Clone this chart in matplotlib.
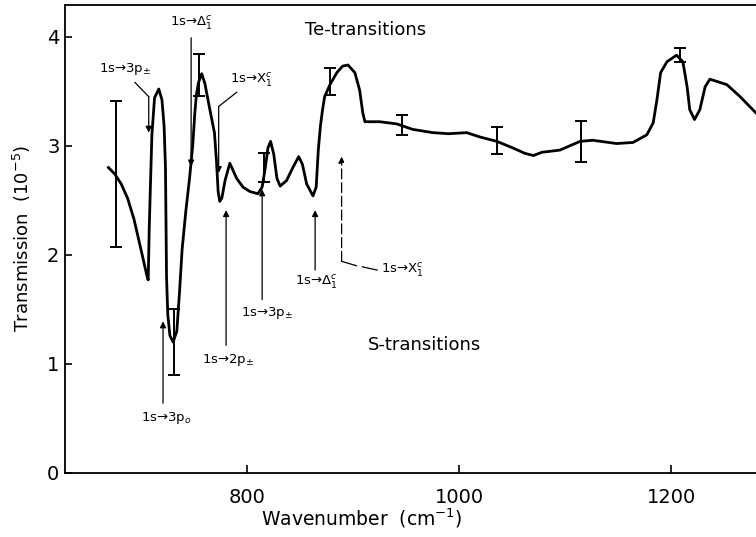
import matplotlib
matplotlib.use("Agg")
import matplotlib.pyplot as plt

# spectre (nombre d'onde en cm-1, transmission en 1e-5)
wn = [669, 675, 681, 687, 693, 698, 702, 705, 706.5, 707.5, 708.5, 710, 712.5,
      716.5, 719.5, 721.5, 722.8, 723.3, 723.8, 725, 727, 730, 733.5, 736, 738.5,
      742, 745.5, 748.5, 750.5, 752, 754, 757, 760, 764.5, 769, 771, 772.5, 774, 776,
      779, 783.5, 790, 796, 802.5, 810, 814, 817, 819.5, 822, 825, 828, 831, 837,
      843, 848.5, 852, 856, 862, 865, 867, 869, 871, 873, 878, 884.5, 890, 895,
      901.5, 906, 909, 911, 925, 941, 956, 975, 990, 1007, 1019.5, 1035.5, 1050.5,
      1062, 1070, 1078, 1095, 1114, 1126, 1148.5, 1164, 1177, 1183, 1186.5, 1190,
      1196, 1205, 1211, 1215, 1217.5, 1222, 1227, 1232, 1236.5, 1252.5, 1265, 1280]
trans = [2.80, 2.74, 2.65, 2.52, 2.33, 2.12, 1.95, 1.82, 1.77, 2.25, 2.60, 3.10, 3.44,
         3.52, 3.42, 3.18, 2.80, 2.30, 1.80, 1.45, 1.26, 1.20, 1.30, 1.65, 2.05,
         2.40, 2.70, 3.00, 3.30, 3.47, 3.58, 3.66, 3.57, 3.34, 3.12, 2.85, 2.58, 2.49, 2.52,
         2.68, 2.84, 2.70, 2.62, 2.58, 2.56, 2.62, 2.80, 2.98, 3.04, 2.92, 2.70, 2.63, 2.68,
         2.80, 2.90, 2.83, 2.65, 2.54, 2.62, 2.96, 3.18, 3.33, 3.45, 3.56, 3.67, 3.73, 3.74,
         3.67, 3.51, 3.30, 3.22, 3.22, 3.20, 3.15, 3.12, 3.11, 3.12, 3.08, 3.04, 2.98,
         2.93, 2.91, 2.94, 2.96, 3.04, 3.05, 3.02, 3.03, 3.10, 3.21, 3.42, 3.67,
         3.77, 3.83, 3.77, 3.54, 3.33, 3.24, 3.33, 3.54, 3.61, 3.56, 3.45, 3.30]

# barres d'erreur
err_wn = [676, 731, 754.5, 816, 878, 946, 1035.5, 1115, 1208]
err_mid = [2.74, 1.20, 3.65, 2.80, 3.59, 3.19, 3.045, 3.04, 3.835]
err_half = [0.67, 0.30, 0.19, 0.135, 0.125, 0.09, 0.125, 0.185, 0.065]

fig = plt.figure(figsize=(7.56, 5.37), dpi=100)
ax = fig.add_axes([65 / 756, 64 / 537, 691 / 756, 468 / 537])
ax.set_xlim(628, 1280)
ax.set_ylim(0, 4.29)

ax.plot(wn, trans, color="black", lw=2.0, solid_joinstyle="round")
ax.errorbar(err_wn, err_mid, yerr=err_half, fmt="none", ecolor="black",
            elinewidth=1.4, capsize=4, capthick=1.4)

ax.spines["right"].set_visible(False)
for s in ("left", "top", "bottom"):
    ax.spines[s].set_linewidth(1.3)
ax.set_xticks([800, 1000, 1200])
ax.set_yticks([0, 1, 2, 3, 4])
ax.tick_params(axis="x", direction="in", length=5.5, width=1.2, pad=11, labelsize=14)
ax.tick_params(axis="y", direction="in", length=5, width=1.2, pad=4, labelsize=14)
ax.tick_params(top=False, right=False)

ax.set_xlabel("Wavenumber  (cm$^{-1}$)", fontsize=13.5)
ax.xaxis.set_label_coords(0.43, -0.072)
ax.set_ylabel("Transmission  (10$^{-5}$)", fontsize=13)
ax.yaxis.set_label_coords(-0.047, 0.5)

fs = 9.5
arr = dict(arrowstyle="-|>", mutation_scale=9, lw=0.9, color="black", shrinkA=0, shrinkB=0)
lin = dict(color="black", lw=0.9)

# transitions Te (flèches vers le bas)
ax.text(912, 4.06, "Te-transitions", fontsize=13, ha="center", va="center")
ax.text(684.5, 3.70, "1s→3p$_{\\pm}$", fontsize=fs, ha="center", va="center")
ax.plot([694, 707], [3.58, 3.45], **lin)
ax.annotate("", xy=(707, 3.12), xytext=(707, 3.45), arrowprops=arr)
ax.text(747, 4.12, "1s→$\\Delta_1^c$", fontsize=fs, ha="center", va="center")
ax.annotate("", xy=(747, 2.81), xytext=(747, 3.99), arrowprops=arr)
ax.text(803.5, 3.60, "1s→X$_1^c$", fontsize=fs, ha="center", va="center")
ax.plot([790, 773], [3.49, 3.36], **lin)
ax.annotate("", xy=(773, 2.75), xytext=(773, 3.36), arrowprops=arr)

# transitions S (flèches vers le haut)
ax.text(967, 1.17, "S-transitions", fontsize=13, ha="center", va="center")
ax.text(724, 0.50, "1s→3p$_{o}$", fontsize=fs, ha="center", va="center")
ax.annotate("", xy=(720.5, 1.39), xytext=(720.5, 0.64), arrowprops=arr)
ax.text(782, 1.04, "1s→2p$_{\\pm}$", fontsize=fs, ha="center", va="center")
ax.annotate("", xy=(780, 2.41), xytext=(780, 1.17), arrowprops=arr)
ax.text(818.5, 1.47, "1s→3p$_{\\pm}$", fontsize=fs, ha="center", va="center")
ax.annotate("", xy=(814, 2.60), xytext=(814, 1.59), arrowprops=arr)
ax.text(865, 1.75, "1s→$\\Delta_1^c$", fontsize=fs, ha="center", va="center")
ax.annotate("", xy=(864, 2.41), xytext=(864, 1.86), arrowprops=arr)
ax.text(946, 1.86, "1s→X$_1^c$", fontsize=fs, ha="center", va="center")
ax.annotate("", xy=(889, 2.90), xytext=(889, 1.94),
            arrowprops=dict(arr, linestyle=(0, (8, 3))))
ax.plot([889, 903], [1.94, 1.90], **lin)
ax.plot([908.5, 922.5], [1.89, 1.86], **lin)

fig.savefig("out.png", dpi=100, facecolor="white")
